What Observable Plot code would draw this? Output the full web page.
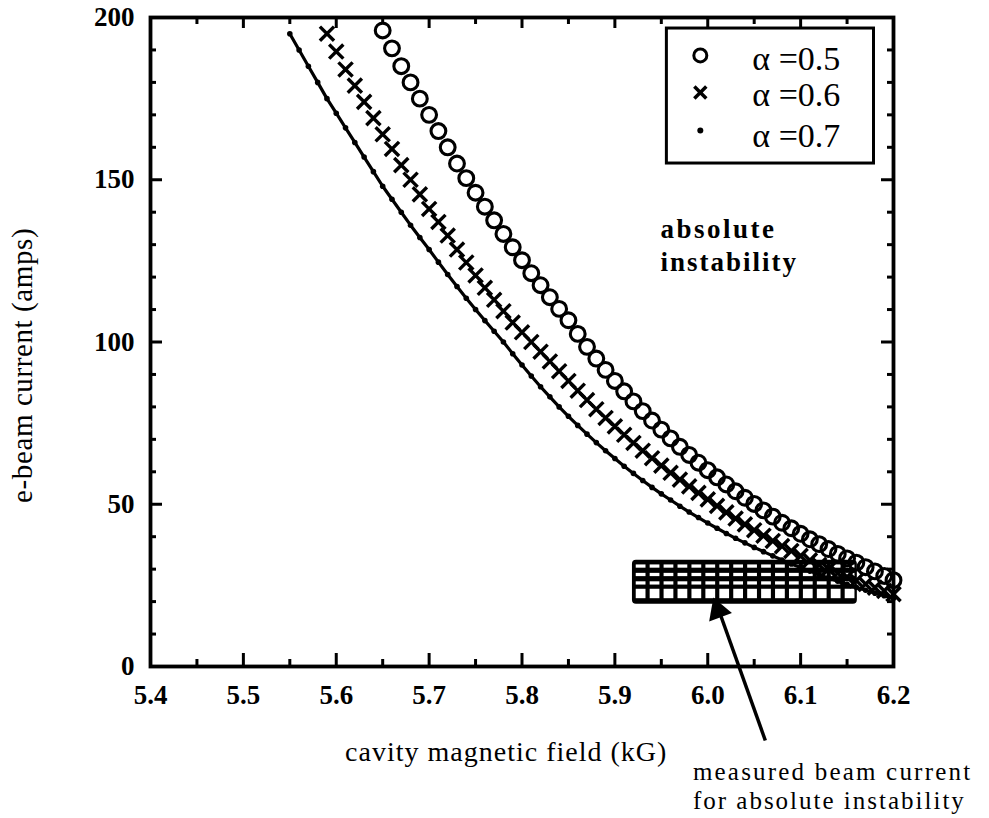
<!DOCTYPE html>
<html>
<head>
<meta charset="utf-8">
<script src="https://cdn.jsdelivr.net/npm/d3@7"></script>
<script src="https://cdn.jsdelivr.net/npm/@observablehq/plot@0.6"></script>
<style>
  html, body { margin: 0; padding: 0; background: #fff; }
  #chart { width: 989px; height: 818px; }
</style>
</head>
<body>
<div id="chart"></div>
<script>
// ---------- axis ticks ----------
const xMajor = [5.4, 5.5, 5.6, 5.7, 5.8, 5.9, 6.0, 6.1, 6.2];
const xTickLabels = ["5.4", "5.5", "5.6", "5.7", "5.8", "5.9", "6.0", "6.1", "6.2"];
const xMinor = [5.45, 5.55, 5.65, 5.75, 5.85, 5.95, 6.05, 6.15];
const yMajor = [0, 50, 100, 150, 200];
const yTickLabels = ["0", "50", "100", "150", "200"];
const yMinor = [10, 20, 30, 40, 60, 70, 80, 90, 110, 120, 130, 140, 160, 170, 180, 190];

// ---------- series: alpha = 0.5 (open circles) ----------
const fieldA05 = [5.65, 5.66, 5.67, 5.68, 5.69, 5.70, 5.71, 5.72, 5.73, 5.74,
  5.75, 5.76, 5.77, 5.78, 5.79, 5.80, 5.81, 5.82, 5.83, 5.84,
  5.85, 5.86, 5.87, 5.88, 5.89, 5.90, 5.91, 5.92, 5.93, 5.94,
  5.95, 5.96, 5.97, 5.98, 5.99, 6.00, 6.01, 6.02, 6.03, 6.04,
  6.05, 6.06, 6.07, 6.08, 6.09, 6.10, 6.11, 6.12, 6.13, 6.14,
  6.15, 6.16, 6.17, 6.18, 6.19, 6.20];
const currentA05 = [196, 190.5, 185, 180, 175, 170, 165, 160, 155, 150.5,
  146, 141.7, 137.5, 133.3, 129.2, 125.2, 121.2, 117.5, 113.8, 110.2,
  106.7, 102.5, 98.5, 94.9, 91.4, 88, 84.8, 81.7, 78.7, 75.8,
  73, 70.3, 67.7, 65.2, 62.8, 60.5, 58.3, 56.1, 54, 52,
  50.1, 48.1, 46.2, 44.3, 42.6, 40.9, 39.2, 37.7, 36.2, 34.7,
  33.3, 32, 30.6, 29.3, 27.9, 26.6];

// ---------- series: alpha = 0.6 (crosses) ----------
const fieldA06 = [5.59, 5.60, 5.61, 5.62, 5.63, 5.64, 5.65, 5.66, 5.67, 5.68,
  5.69, 5.70, 5.71, 5.72, 5.73, 5.74, 5.75, 5.76, 5.77, 5.78,
  5.79, 5.80, 5.81, 5.82, 5.83, 5.84, 5.85, 5.86, 5.87, 5.88,
  5.89, 5.90, 5.91, 5.92, 5.93, 5.94, 5.95, 5.96, 5.97, 5.98,
  5.99, 6.00, 6.01, 6.02, 6.03, 6.04, 6.05, 6.06, 6.07, 6.08,
  6.09, 6.10, 6.11, 6.12, 6.13, 6.14, 6.15, 6.16, 6.17, 6.18,
  6.19, 6.20];
const currentA06 = [195, 189.5, 184, 179, 174, 169, 164, 159.5, 154.5, 150,
  145.5, 141, 137, 132.8, 128.5, 124.5, 120.5, 116.7, 113, 109.5,
  106, 103, 100, 97, 94, 91, 88, 85, 82.1, 79.3,
  76.6, 74, 71.4, 68.9, 66.5, 64.2, 61.9, 59.7, 57.6, 55.5,
  53.5, 51.5, 49.5, 47.5, 45.6, 43.8, 42, 40.3, 38.7, 37.1,
  35.6, 34.1, 32.7, 31.3, 30, 28.8, 27.6, 26.5, 25.4, 24.3,
  23.3, 22.3];

// ---------- series: alpha = 0.7 (small dots on a line) ----------
const fieldA07 = [5.55, 5.56, 5.57, 5.58, 5.59, 5.60, 5.61, 5.62, 5.63, 5.64,
  5.65, 5.66, 5.67, 5.68, 5.69, 5.70, 5.71, 5.72, 5.73, 5.74,
  5.75, 5.76, 5.77, 5.78, 5.79, 5.80, 5.81, 5.82, 5.83, 5.84,
  5.85, 5.86, 5.87, 5.88, 5.89, 5.90, 5.91, 5.92, 5.93, 5.94,
  5.95, 5.96, 5.97, 5.98, 5.99, 6.00, 6.01, 6.02, 6.03, 6.04,
  6.05, 6.06, 6.07, 6.08, 6.09, 6.10, 6.11, 6.12, 6.13, 6.14,
  6.15, 6.16, 6.17, 6.18, 6.19, 6.20];
const currentA07 = [195, 190, 185, 180, 175, 170.5, 166, 161.5, 157, 152.5,
  148, 144, 140, 136, 132.2, 128.5, 124.6, 120.8, 117.1, 113.5,
  110, 106.6, 103.3, 100, 96.4, 92.9, 89.5, 86.2, 83.1, 80,
  77.1, 74.3, 71.6, 69, 66.5, 64.1, 61.7, 59.5, 57.3, 55.2,
  53.2, 51.3, 49.4, 47.6, 45.9, 44.2, 42.6, 41, 39.5, 38.1,
  36.7, 35.4, 34.1, 32.8, 31.6, 30.5, 29.4, 28.3, 27.3, 26.3,
  25.3, 24.4, 23.5, 22.6, 21.8, 21];

// ---------- legend ----------
const legendLabels = ["α =0.5", "α =0.6", "α =0.7"];
const legendSymbolY = [188.3, 176.9, 165.2];
const legendTextY = [187.2, 176, 163.6];
const legendBox = [{x1: 5.956, x2: 6.179, y1: 155, y2: 196.6}];
const legendSymbolX = 5.992;
const legendTextX = 6.048;

// ---------- measured beam current region (hatched box) ----------
const measuredBox = [{x1: 5.92, x2: 6.16, y1: 19.5, y2: 32.4}];
const hatchColLeft = [5.923, 5.938, 5.953, 5.968, 5.983, 5.998, 6.013, 6.028,
  6.043, 6.058, 6.073, 6.088, 6.103, 6.118, 6.133, 6.148];
const hatchColWidth = 0.0105;
const hatchRowsY = [[30.3, 31.3], [27.7, 28.7], [25.1, 26.1], [20.9, 23.8]];

// ---------- annotations ----------
const regionLabel = ["absolute", "instability"];
const regionLabelX = 5.949;
const regionLabelY = [134.7, 124.5];
const noteLines = ["measured beam current", "for absolute instability"];
const noteX = 5.984;
const noteY = [-32.4, -41.4];
const arrowShaft = [{x1: 6.062, y1: -22.8, x2: 6.0105, y2: 18.5}];
const arrowHead = [{x: 6.0112, y: 17.2}];
const xAxisTitle = ["cavity magnetic field (kG)"];
const xAxisTitlePos = {x: 5.783, y: -26.5};
const yAxisTitle = ["e-beam current (amps)"];
const yAxisTitlePos = {x: 5.2622, y: 92.8};

// ---------- tables ----------
const data05 = fieldA05.map((x, i) => ({x, y: currentA05[i]}));
const data06 = fieldA06.map((x, i) => ({x, y: currentA06[i]}));
const data07 = fieldA07.map((x, i) => ({x, y: currentA07[i]}));
const legendRows = legendLabels.map((label, i) => ({label, ys: legendSymbolY[i], yt: legendTextY[i]}));
const hatchCells = [];
hatchColLeft.forEach(x => hatchRowsY.forEach(([y1, y2]) => hatchCells.push({x1: x, x2: x + hatchColWidth, y1, y2})));

const serif = "Liberation Serif";
const innerW = 989 - 150 - 96;
const innerH = 818 - 17 - 152;

const chart = Plot.plot({
  width: 989,
  height: 818,
  marginLeft: 150,
  marginRight: 96,
  marginTop: 17,
  marginBottom: 152,
  x: {domain: [5.4, 6.2], axis: null},
  y: {domain: [0, 200], axis: null},
  style: {fontFamily: "'Liberation Serif', serif", background: "#fff", color: "#000"},
  marks: [
    // inward ticks: bottom & top
    Plot.tickX(xMajor, {x: d => d, insetTop: innerH - 13, stroke: "#000", strokeWidth: 3}),
    Plot.tickX(xMinor, {x: d => d, insetTop: innerH - 7, stroke: "#000", strokeWidth: 3}),
    Plot.tickX(xMajor, {x: d => d, insetBottom: innerH - 11, stroke: "#000", strokeWidth: 3}),
    Plot.tickX(xMinor, {x: d => d, insetBottom: innerH - 7, stroke: "#000", strokeWidth: 3}),
    // inward ticks: left & right
    Plot.tickY(yMajor, {y: d => d, insetRight: innerW - 12, stroke: "#000", strokeWidth: 3}),
    Plot.tickY(yMinor, {y: d => d, insetRight: innerW - 6, stroke: "#000", strokeWidth: 3}),
    Plot.tickY(yMajor, {y: d => d, insetLeft: innerW - 12, stroke: "#000", strokeWidth: 3}),
    Plot.tickY(yMinor, {y: d => d, insetLeft: innerW - 6, stroke: "#000", strokeWidth: 3}),
    Plot.frame({stroke: "#000", strokeWidth: 3.8}),

    // tick labels
    Plot.text(xMajor, {x: d => d, text: (d, i) => xTickLabels[i], frameAnchor: "bottom", dy: 37,
      fontSize: 27, fontWeight: "bold", fontFamily: serif, fill: "#000"}),
    Plot.text(yMajor, {y: d => d, text: (d, i) => yTickLabels[i], frameAnchor: "left", dx: -16,
      textAnchor: "end", fontSize: 27, fontWeight: "bold", fontFamily: serif, fill: "#000"}),

    // axis titles
    Plot.text(xAxisTitle, {x: xAxisTitlePos.x, y: xAxisTitlePos.y, text: d => d, fontSize: 28,
      fontFamily: serif, fill: "#000"}),
    Plot.text(yAxisTitle, {x: yAxisTitlePos.x, y: yAxisTitlePos.y, text: d => d, rotate: -90, fontSize: 29,
      fontFamily: serif, fill: "#000"}),

    // measured region
    Plot.rect(measuredBox, {x1: "x1", x2: "x2", y1: "y1", y2: "y2", fill: "#000", stroke: "#000", strokeWidth: 2, rx: 3}),
    Plot.rect(hatchCells, {x1: "x1", x2: "x2", y1: "y1", y2: "y2", fill: "#fff"}),

    // curves
    Plot.line(data07, {x: "x", y: "y", stroke: "#000", strokeWidth: 3.2}),
    Plot.dot(data07, {x: "x", y: "y", r: 2.8, fill: "#000"}),
    Plot.dot(data06, {x: "x", y: "y", symbol: "times", r: 6.5, stroke: "#000", strokeWidth: 3.4}),
    Plot.dot(data05, {x: "x", y: "y", r: 7.4, stroke: "#000", strokeWidth: 3.1, fill: "none"}),

    // arrow to measured region
    Plot.link(arrowShaft, {x1: "x1", y1: "y1", x2: "x2", y2: "y2", stroke: "#000", strokeWidth: 3.5}),
    Plot.dot(arrowHead, {x: "x", y: "y", symbol: "triangle", r: 9, fill: "#000", rotate: -20}),

    // annotation texts
    Plot.text(regionLabel, {x: regionLabelX, y: (d, i) => regionLabelY[i], text: d => d, textAnchor: "start",
      fontSize: 27, fontWeight: "bold", fontFamily: serif, fill: "#000"}),
    Plot.text(noteLines, {x: noteX, y: (d, i) => noteY[i], text: d => d, textAnchor: "start",
      fontSize: 25, fontFamily: serif, fill: "#000"}),

    // legend
    Plot.rect(legendBox, {x1: "x1", x2: "x2", y1: "y1", y2: "y2", fill: "#fff", stroke: "#000", strokeWidth: 3}),
    Plot.dot(legendRows.slice(0, 1), {x: legendSymbolX, y: "ys", r: 6.5, stroke: "#000", strokeWidth: 3, fill: "none"}),
    Plot.dot(legendRows.slice(1, 2), {x: legendSymbolX, y: "ys", symbol: "times", r: 5.5, stroke: "#000", strokeWidth: 3.5}),
    Plot.dot(legendRows.slice(2, 3), {x: legendSymbolX, y: "ys", r: 3, fill: "#000"}),
    Plot.text(legendRows, {x: legendTextX, y: "yt", text: "label", textAnchor: "start", fontSize: 34,
      fontFamily: serif, fill: "#000"})
  ]
});

// letter spacing to match the wide typesetting of the original
const spacing = new Map([
  ["absolute", "2.5px"], ["instability", "2px"],
  ["measured beam current", "2.2px"], ["for absolute instability", "2px"],
  ["cavity magnetic field (kG)", "1px"], ["e-beam current (amps)", "0.6px"]
]);
d3.select(chart).selectAll("text").each(function() {
  const s = spacing.get(this.textContent);
  if (s) this.setAttribute("letter-spacing", s);
});
document.getElementById("chart").appendChild(chart);
</script>
</body>
</html>
